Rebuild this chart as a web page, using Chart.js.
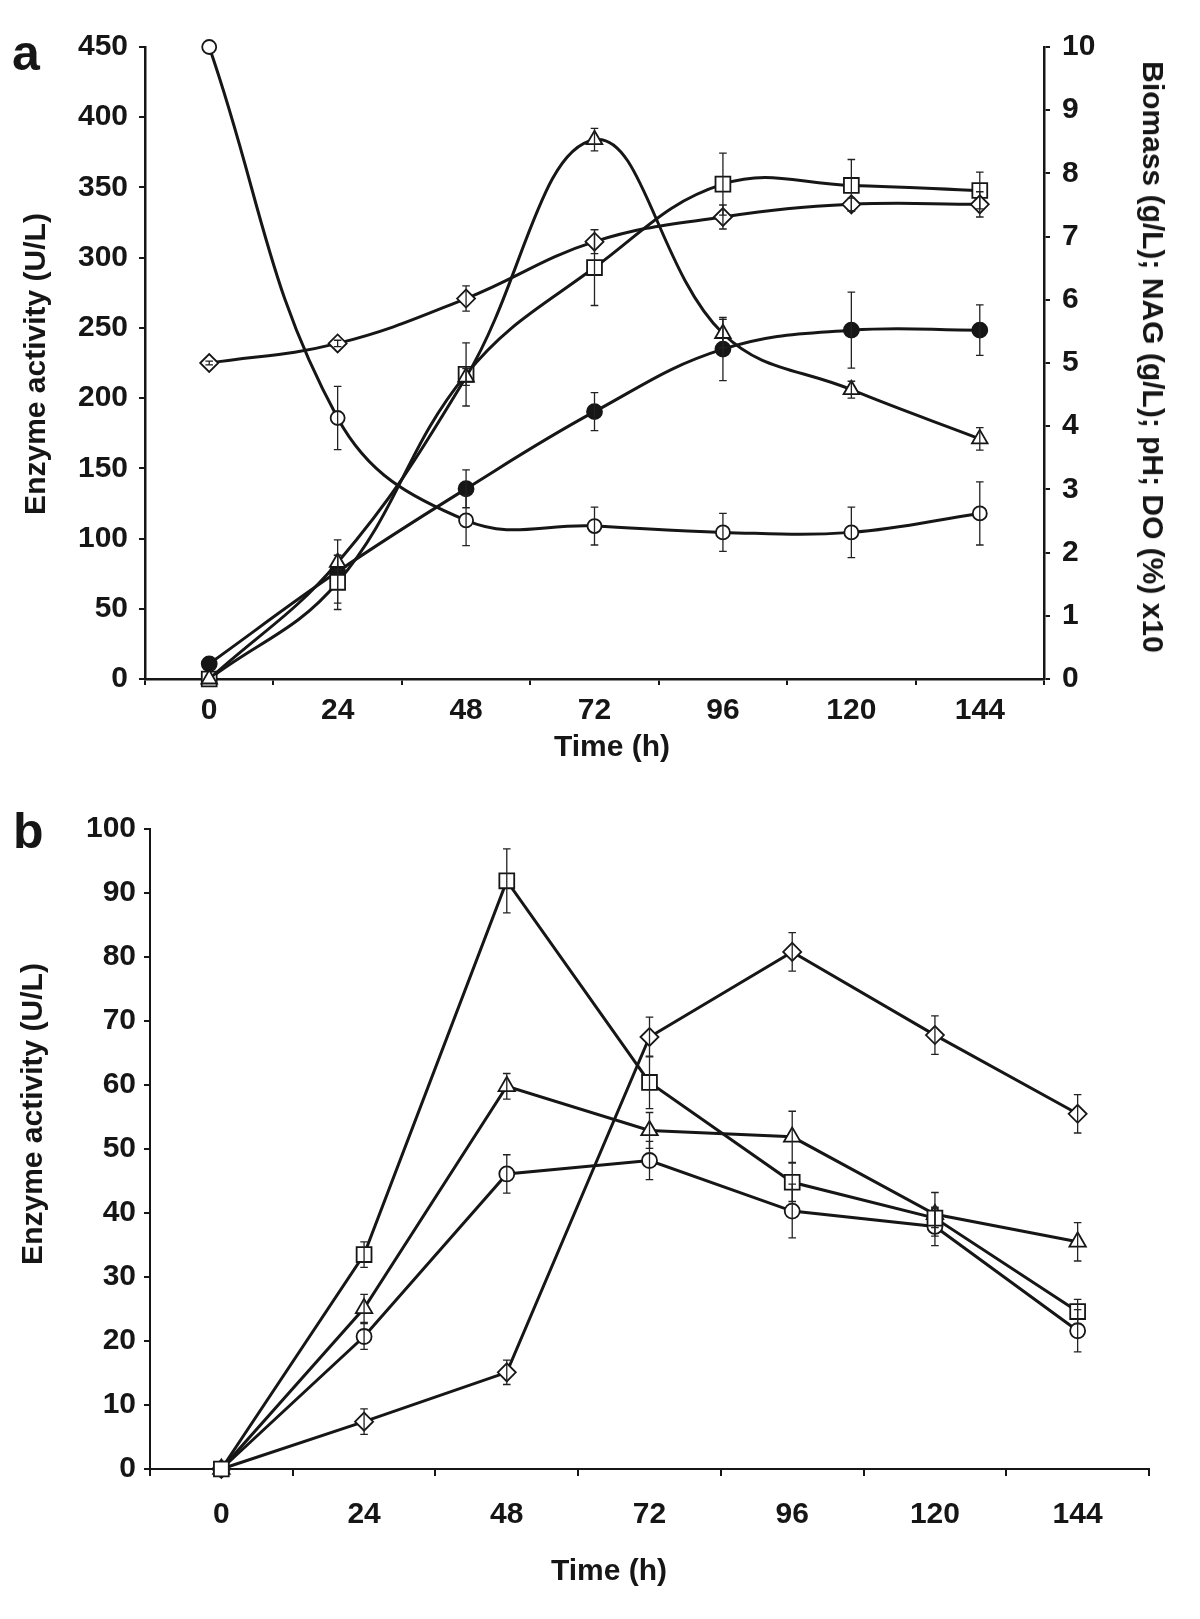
<!DOCTYPE html>
<html><head><meta charset="utf-8">
<script src="https://cdn.jsdelivr.net/npm/chart.js@4.4.1/dist/chart.umd.min.js"></script>
<style>
html,body{margin:0;padding:0;background:#fff;}
#fig{position:relative;width:1200px;height:1619px;background:#fff;overflow:hidden;font-family:"Liberation Sans",Arial,Helvetica,sans-serif;font-weight:bold;color:#161616;}
.t{position:absolute;white-space:nowrap;line-height:1;}
canvas{position:absolute;left:0;}
</style></head><body>
<div id="fig">
<canvas id="chartA" width="1200" height="780" style="top:0;width:1200px;height:780px"></canvas>
<canvas id="chartB" width="1200" height="839" style="top:780px;width:1200px;height:839px"></canvas>
<div class="t" style="left:12px;top:28px;font-size:50px">a</div>
<div class="t" style="left:13px;top:806px;font-size:50px">b</div>
<div class="t" style="left:612px;top:731px;font-size:30px;transform:translateX(-50%)">Time (h)</div>
<div class="t" style="left:609px;top:1555px;font-size:30px;transform:translateX(-50%)">Time (h)</div>
<div class="t" style="left:35px;top:364px;font-size:30px;transform:translate(-50%,-50%) rotate(-90deg)">Enzyme activity (U/L)</div>
<div class="t" style="left:1153px;top:357px;font-size:30px;transform:translate(-50%,-50%) rotate(90deg)">Biomass (g/L); NAG (g/L); pH; DO (%) x10</div>
<div class="t" style="left:32px;top:1114px;font-size:30px;transform:translate(-50%,-50%) rotate(-90deg)">Enzyme activity (U/L)</div>
</div>
<script>
// ---------- data ----------
const times = [0, 24, 48, 72, 96, 120, 144];
const xTickValues = [-12, 0, 12, 24, 36, 48, 60, 72, 84, 96, 108, 120, 132, 144, 156];

// Panel a
const enzymeA    = [0, 83, 215, 384, 246, 206, 171];          // U/L (left axis), triangles
const enzymeAErr = [0, 5, 6, 8, 10, 6, 8];
const doA        = [10, 4.13, 2.51, 2.42, 2.32, 2.32, 2.62];  // right axis, open circles
const doAErr     = [0, 0.5, 0.4, 0.3, 0.3, 0.4, 0.5];
const phA        = [5.0, 5.31, 6.02, 6.92, 7.31, 7.51, 7.51]; // right axis, diamonds
const phAErr     = [0.03, 0.05, 0.2, 0.19, 0.19, 0.1, 0.2];
const nagA       = [0, 1.53, 4.82, 6.51, 7.83, 7.81, 7.73];   // right axis, squares
const nagAErr    = [0, 0.43, 0.5, 0.6, 0.49, 0.41, 0.29];
const biomassA   = [0.24, 1.70, 3.01, 4.23, 5.22, 5.52, 5.52];// right axis, filled circles
const biomassAErr= [0, 0.5, 0.3, 0.3, 0.5, 0.6, 0.4];

// Panel b
const squareB     = [0, 33.5, 91.9, 60.4, 44.8, 39.2, 24.6];
const squareBErr  = [0, 2, 5, 4.1, 3, 1.5, 1.9];
const triangleB   = [0, 25.1, 59.8, 52.9, 51.9, 39.8, 35.5];
const triangleBErr= [0, 2.2, 2, 2.8, 4, 3.4, 3];
const circleB     = [0, 20.7, 46.1, 48.2, 40.3, 37.9, 21.6];
const circleBErr  = [0, 2, 3, 3, 4.2, 3, 3.3];
const diamondB    = [0, 7.4, 15.1, 67.5, 80.8, 67.8, 55.5];
const diamondBErr = [0, 2, 1.9, 3.1, 3, 3, 3];

// ---------- helpers ----------
const ink = '#161616';
const FONT = '"Liberation Sans", Arial, Helvetica, sans-serif';
const toXY = arr => arr.map((v, i) => ({x: times[i], y: v}));

const errorBarPlugin = {
  id: 'errorBars',
  afterDatasetsDraw(chart) {
    const ctx = chart.ctx;
    chart.data.datasets.forEach((ds, i) => {
      if (!ds.errors) return;
      const meta = chart.getDatasetMeta(i);
      const xs = chart.scales[meta.xAxisID];
      const ys = chart.scales[meta.yAxisID];
      ctx.save();
      ctx.strokeStyle = '#222';
      ctx.lineWidth = 1.3;
      const cap = 3.8;
      ds.data.forEach((p, j) => {
        const e = ds.errors[j];
        if (!e) return;
        const x = xs.getPixelForValue(p.x);
        const y1 = ys.getPixelForValue(p.y + e);
        const y2 = ys.getPixelForValue(p.y - e);
        ctx.beginPath();
        ctx.moveTo(x, y1); ctx.lineTo(x, y2);
        ctx.moveTo(x - cap, y1); ctx.lineTo(x + cap, y1);
        ctx.moveTo(x - cap, y2); ctx.lineTo(x + cap, y2);
        ctx.stroke();
      });
      ctx.restore();
    });
  }
};

function xAxis(fontSize, tickLen, pad, height, bw) {
  return {
    type: 'linear', min: -12, max: 156,
    afterBuildTicks: s => { s.ticks = xTickValues.map(v => ({value: v})); },
    afterFit: s => { s.height = height; },
    ticks: {
      autoSkip: false, maxRotation: 0, minRotation: 0, padding: pad, color: ink,
      font: {family: FONT, size: fontSize, weight: 'bold'},
      callback: v => (v % 24 === 0 ? String(v) : '')
    },
    grid: {
      drawOnChartArea: false, drawTicks: true, tickLength: tickLen, lineWidth: 2,
      tickColor: c => (c.tick && c.tick.value % 24 === 0) ? 'rgba(0,0,0,0)' : ink
    },
    border: {display: true, color: ink, width: bw}
  };
}
function yAxis(pos, min, max, step, fontSize, tickLen, pad, width, bw) {
  return {
    type: 'linear', position: pos, min: min, max: max,
    afterFit: s => { s.width = width; },
    ticks: {stepSize: step, padding: pad, color: ink, font: {family: FONT, size: fontSize, weight: 'bold'}},
    grid: {drawOnChartArea: false, drawTicks: true, tickLength: tickLen, lineWidth: 2, tickColor: ink},
    border: {display: true, color: ink, width: bw}
  };
}
function series(label, data, errs, style, radius, fill, axis, tension, lw) {
  return {
    label: label, data: toXY(data), errors: errs, yAxisID: axis,
    borderColor: ink, borderWidth: lw, tension: tension, fill: false, clip: false,
    pointStyle: style, pointRadius: radius, pointBackgroundColor: fill,
    pointBorderColor: ink, pointBorderWidth: 1.8
  };
}

// ---------- panel a ----------
new Chart(document.getElementById('chartA'), {
  type: 'line',
  data: {
    datasets: [
      series('Enzyme activity (U/L)', enzymeA, enzymeAErr, 'triangle', 9, '#fff', 'y', 0.4, 3),
      series('DO (%) x10', doA, doAErr, 'circle', 7, '#fff', 'y2', 0.4, 3),
      series('pH', phA, phAErr, 'rectRot', 9, '#fff', 'y2', 0.4, 3),
      series('NAG (g/L)', nagA, nagAErr, 'rect', 10.5, '#fff', 'y2', 0.4, 3),
      series('Biomass (g/L)', biomassA, biomassAErr, 'circle', 7.5, ink, 'y2', 0.4, 3)
    ]
  },
  options: {
    responsive: false, animation: false, events: [],
    layout: {padding: {top: 47, left: 0, right: 0, bottom: 0}},
    plugins: {legend: {display: false}, tooltip: {enabled: false}},
    scales: {
      x: xAxis(30, 6, 8, 101, 2.5),
      y: yAxis('left', 0, 450, 50, 30, 6, 11, 145, 2.5),
      y2: yAxis('right', 0, 10, 1, 30, 6, 12, 156, 2.5)
    }
  },
  plugins: [errorBarPlugin]
});

// ---------- panel b ----------
new Chart(document.getElementById('chartB'), {
  type: 'line',
  data: {
    datasets: [
      series('Square series', squareB, squareBErr, 'rect', 10.5, '#fff', 'y', 0, 3),
      series('Triangle series', triangleB, triangleBErr, 'triangle', 9.5, '#fff', 'y', 0, 3),
      series('Circle series', circleB, circleBErr, 'circle', 7.5, '#fff', 'y', 0, 3),
      series('Diamond series', diamondB, diamondBErr, 'rectRot', 9, '#fff', 'y', 0, 3)
    ]
  },
  options: {
    responsive: false, animation: false, events: [],
    layout: {padding: {top: 49, left: 0, right: 51, bottom: 0}},
    plugins: {legend: {display: false}, tooltip: {enabled: false}},
    scales: {
      x: xAxis(30, 7, 21, 150, 2),
      y: yAxis('left', 0, 100, 10, 30, 6, 8, 150, 2)
    }
  },
  plugins: [errorBarPlugin]
});
</script>
</body></html>
